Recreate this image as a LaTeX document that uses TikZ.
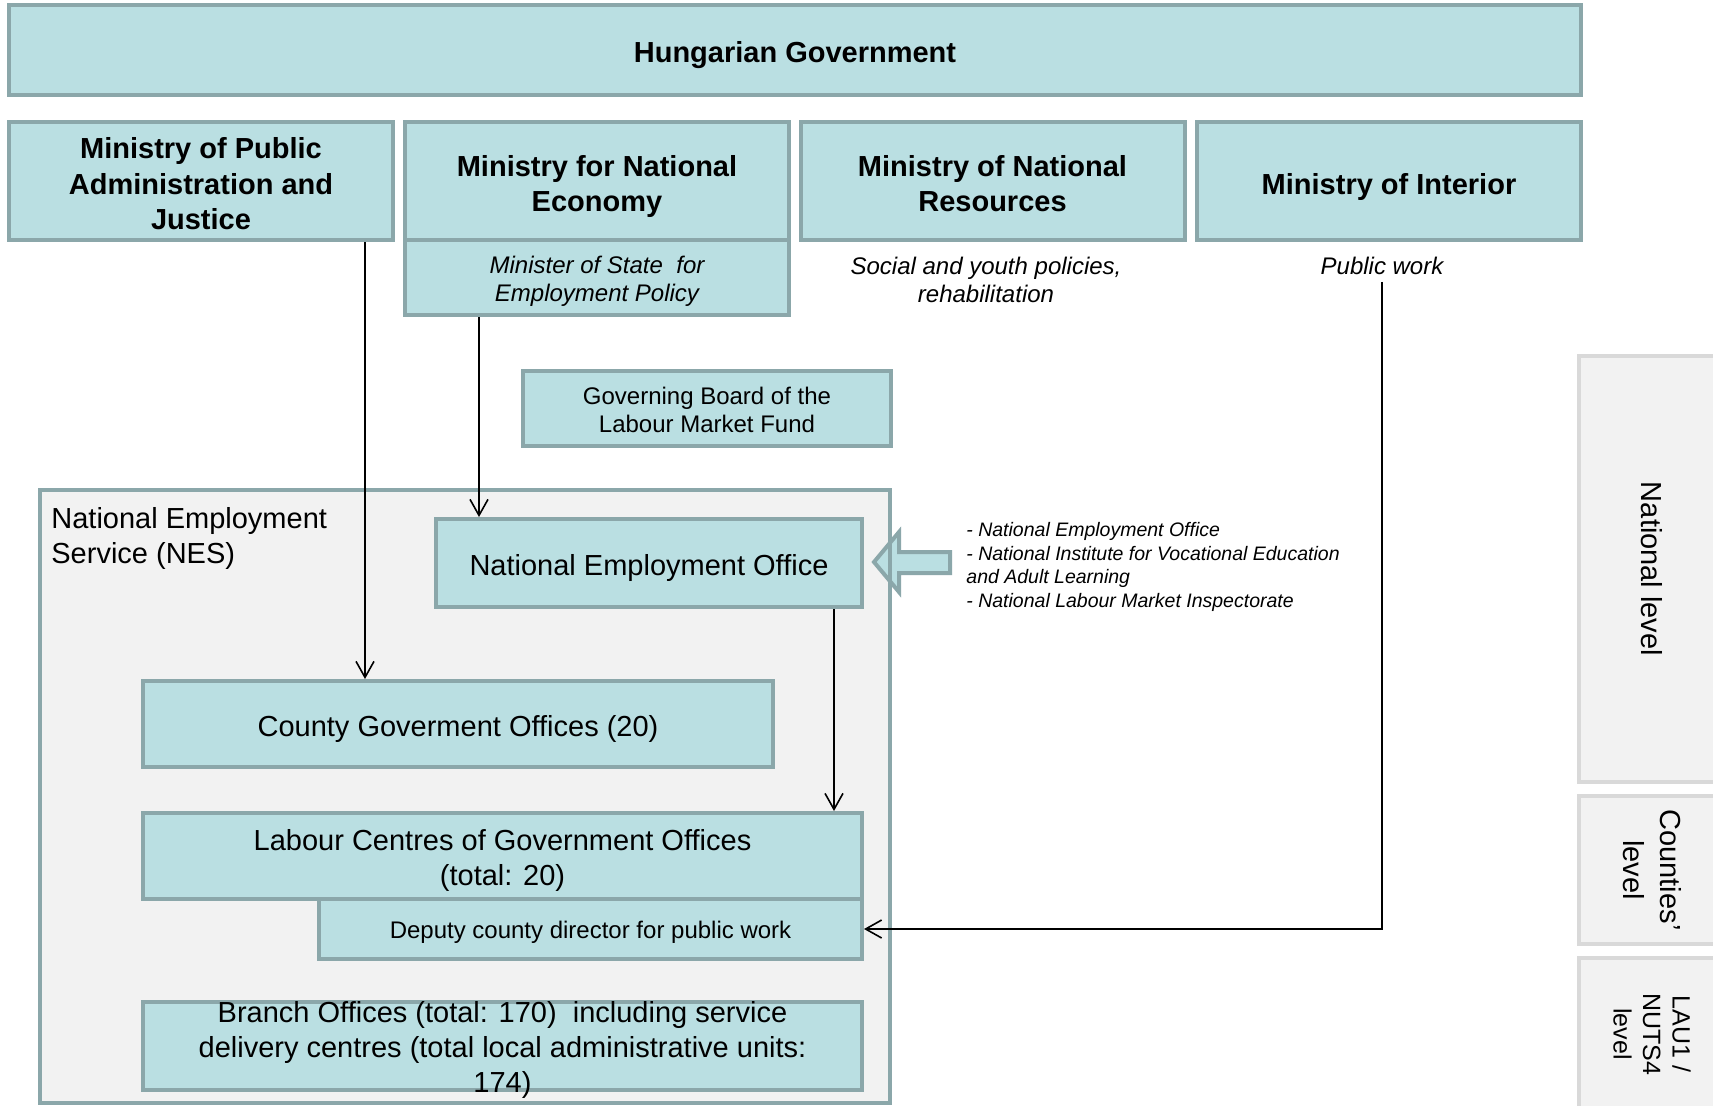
\documentclass[tikz,border=0pt]{standalone}
\usepackage{fontspec}
\setmainfont{Liberation Sans}
\usetikzlibrary{arrows.meta}

\definecolor{boxfill}{RGB}{186,223,226}
\definecolor{boxline}{RGB}{139,167,170}
\definecolor{paper}{RGB}{242,242,242}
\definecolor{panelline}{RGB}{217,217,217}

\newcommand{\setfs}[2]{\fontsize{#1}{#2}\selectfont}
% invisible strut on the first line that lowers the text block inside a box a little
\newcommand{\lift}[1]{\rule{0pt}{#1em}}

\begin{document}
\begin{tikzpicture}[x=0.5pt,y=-0.5pt,
  box/.style={draw=boxline, fill=boxfill, line width=2pt, inner sep=0pt, align=center, text depth=0pt},
  bigtxt/.style={font=\setfs{14.5}{17.5}},
  headtxt/.style={font=\bfseries\setfs{14.5}{17.75}},
  midtxt/.style={font=\setfs{12}{14}},
  note/.style={font=\itshape\setfs{12}{14}, align=center},
  link/.style={line width=0.8pt, -{Straight Barb[length=8pt,width=9pt]}},
  panel/.style={draw=panelline, fill=paper, line width=2pt, rotate=-90, inner sep=0pt, align=center}]

\useasboundingbox (0,0) rectangle (1713,1105);
\fill[white] (0,0) rectangle (1713,1105);

% government and ministries
\node[box, headtxt, minimum width=786pt, minimum height=45pt] (gov) at (795,50) {\lift{0.85}Hungarian Government};
\node[box, headtxt, minimum width=192pt, minimum height=59pt] (m1) at (201,181) {\lift{0.9}Ministry of Public\\Administration and\\Justice};
\node[box, headtxt, minimum width=192pt, minimum height=59pt] (m2) at (597,181) {\lift{0.9}Ministry for National\\Economy};
\node[box, headtxt, minimum width=192pt, minimum height=59pt] (m3) at (992.5,181) {\lift{0.9}Ministry of National\\Resources};
\node[box, headtxt, minimum width=192pt, minimum height=59pt] (m4) at (1389,181) {\lift{0.9}Ministry of Interior};
\node[box, note, minimum width=192pt, minimum height=37.5pt] (ms) at (597,277.5) {\lift{0.8}Minister of State\ \ for\\Employment Policy};

\node[note] (sm) at (986,280) {Social and youth policies,\\rehabilitation};
\node[note] (pw) at (1382,266) {Public work};

\node[box, midtxt, minimum width=184pt, minimum height=37.5pt] (gb) at (707,408.5) {\lift{0.85}Governing Board of the\\Labour Market Fund};

% National Employment Service container
\node[fill=paper, inner sep=0pt, minimum width=425pt, minimum height=306.5pt] (nes) at (465,796.5) {};

% block arrow feeding the National Employment Office
\draw[boxline, fill=boxfill, line width=2pt, line join=miter]
  (950,552) -- (899,552) -- (899,532) -- (874,562) -- (899,592) -- (899,573) -- (950,573) -- cycle;

\draw[boxline, line width=2pt] (nes.south west) rectangle (nes.north east);

\node[font=\setfs{14.5}{17.5}, align=left, anchor=west, inner sep=0pt] (neslbl) at (51,538) {National Employment\\Service (NES)};

\node[box, bigtxt, minimum width=213pt, minimum height=44pt] (neo) at (649,563) {\lift{0.85}National Employment Office};
\node[box, bigtxt, minimum width=315pt, minimum height=43pt] (county) at (458,724) {\lift{0.85}County Goverment Offices (20)};
\node[box, bigtxt, minimum width=359.5pt, minimum height=43pt] (labour) at (502.5,856) {\lift{0.8}Labour Centres of Government Offices\\(total: 20)};
\node[box, midtxt, minimum width=271.5pt, minimum height=30pt] (dep) at (590.5,929) {\lift{0.82}Deputy county director for public work};
\node[box, minimum width=359.5pt, minimum height=44pt] (branch) at (502.5,1046) {};
\node[font=\setfs{14.5}{17.5}, align=center, inner sep=0pt] (branchtxt) at (502.5,1050) {Branch Offices (total: 170)\ \ including service\\delivery centres (total local administrative units:\\174)};

\node[font=\itshape\setfs{9.75}{11.75}, align=left, anchor=west, inner sep=0pt] (lst) at (966,567)
  {- National Employment Office\\- National Institute for Vocational Education\\and Adult Learning\\- National Labour Market Inspectorate};

% level panels on the right edge
\begin{scope}
\clip (0,0) rectangle (1713,1105);
\node[panel, font=\setfs{14.5}{17.5}, minimum width=213pt, minimum height=73pt] (natlvl) at (1652,569) {National level};
\node[panel, font=\setfs{14.5}{18.5}, minimum width=74pt, minimum height=73pt] (ctylvl) at (1652,870) {Counties’\\level};
\node[panel, font=\setfs{12.5}{14.75}, minimum width=76pt, minimum height=73pt] (laulvl) at (1652,1034) {LAU1 /\\NUTS4\\level};
\end{scope}

% connectors
\draw[link] ([xshift=-15pt]m1.south east) coordinate (a1) -- (a1 |- county.north);
\draw[link] ([xshift=38pt]ms.south west) coordinate (a2) -- (a2 |- neo.north);
\draw[link] ([xshift=-15pt]neo.south east) coordinate (a3) -- (a3 |- labour.north);
\draw[link] (pw.south) |- (dep.east);

\end{tikzpicture}
\end{document}
